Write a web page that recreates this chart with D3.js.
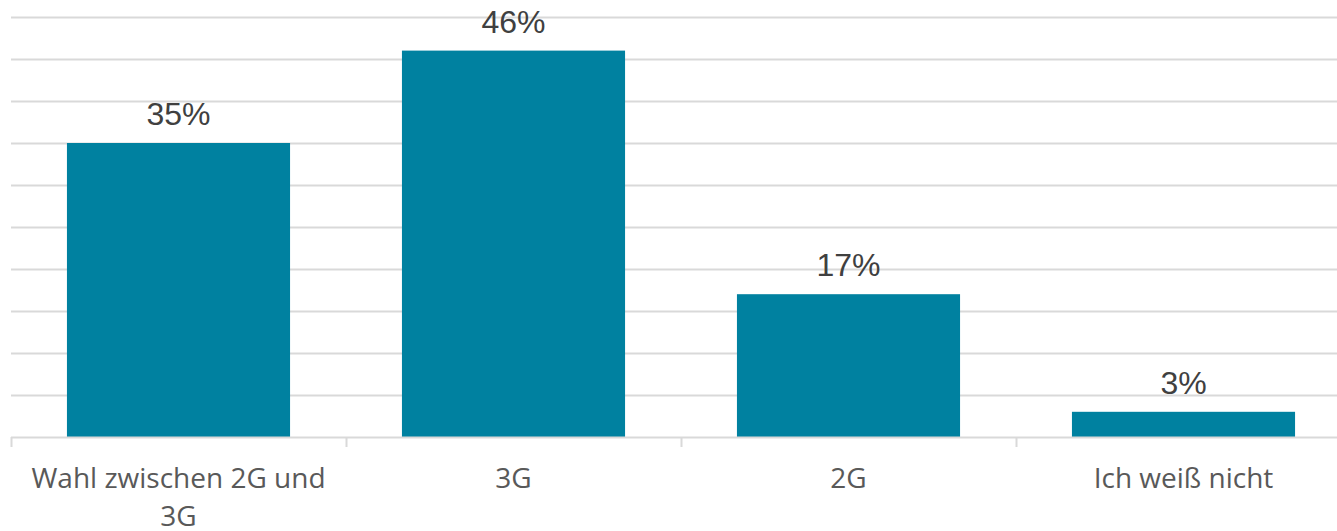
<!DOCTYPE html>
<html><head><meta charset="utf-8">
<script src="https://cdn.jsdelivr.net/npm/d3@7"></script>
<style>body{margin:0;background:#fff}svg{display:block}</style>
</head><body>
<script>
const categories = ["Wahl zwischen 2G und 3G", "3G", "2G", "Ich weiß nicht"];
const values = [35, 46, 17, 3];
const valueLabels = ["35%", "46%", "17%", "3%"];
const yTicks = [0,5,10,15,20,25,30,35,40,45,50];

const W = 1337, H = 531;
const svg = d3.select("body").append("svg").attr("width", W).attr("height", H);
const x = d3.scaleBand().domain(categories).range([11, 1351]).paddingInner(0.334).paddingOuter(0.167);
const y = d3.scaleLinear().domain([0, 50]).range([437, 17]);

// gridlines
svg.append("g").selectAll("line").data(yTicks.filter(d => d > 0)).join("line")
  .attr("x1", 11).attr("x2", W).attr("y1", d => Math.round(y(d)) + 0.5).attr("y2", d => Math.round(y(d)) + 0.5)
  .attr("stroke", "#d9d9d9").attr("stroke-width", 2);

// bars
svg.append("g").selectAll("rect").data(values).join("rect")
  .attr("x", (d, i) => x(categories[i])).attr("width", x.bandwidth())
  .attr("y", d => y(d)).attr("height", d => y(0) - y(d))
  .attr("fill", "#0081a0");

// axis baseline and ticks
const step = x.step();
svg.append("line").attr("x1", 11).attr("x2", W).attr("y1", 437.5).attr("y2", 437.5).attr("stroke", "#d9d9d9").attr("stroke-width", 2);
svg.append("g").selectAll("line").data(categories).join("line")
  .attr("x1", c => Math.round(x(c) - (step - x.bandwidth()) / 2) + 0.5)
  .attr("x2", c => Math.round(x(c) - (step - x.bandwidth()) / 2) + 0.5)
  .attr("y1", 437).attr("y2", 447).attr("stroke", "#d9d9d9").attr("stroke-width", 2);

// value labels
svg.append("g").selectAll("text").data(values).join("text")
  .attr("x", (d, i) => x(categories[i]) + x.bandwidth() / 2)
  .attr("y", d => y(d) - 18)
  .attr("text-anchor", "middle")
  .attr("font-family", "Liberation Sans, Arial, sans-serif").attr("font-size", 32)
  .attr("fill", "#404040")
  .text((d, i) => valueLabels[i]);

// category labels with wrapping
const cl = svg.append("g");
categories.forEach(c => {
  const t = cl.append("text")
    .attr("x", x(c) + x.bandwidth() / 2).attr("y", 488)
    .attr("text-anchor", "middle")
    .attr("font-family", "Open Sans, sans-serif").attr("font-size", 28)
    .attr("fill", "#595959");
  const words = c.split(" ");
  let line = [], ts = t.append("tspan").attr("x", x(c) + x.bandwidth() / 2);
  words.forEach(w => {
    line.push(w);
    ts.text(line.join(" "));
    if (ts.node().getComputedTextLength() > 310 && line.length > 1) {
      line.pop(); ts.text(line.join(" "));
      line = [w];
      ts = t.append("tspan").attr("x", x(c) + x.bandwidth() / 2).attr("dy", 38).text(w);
    }
  });
});
</script>
</body></html>
